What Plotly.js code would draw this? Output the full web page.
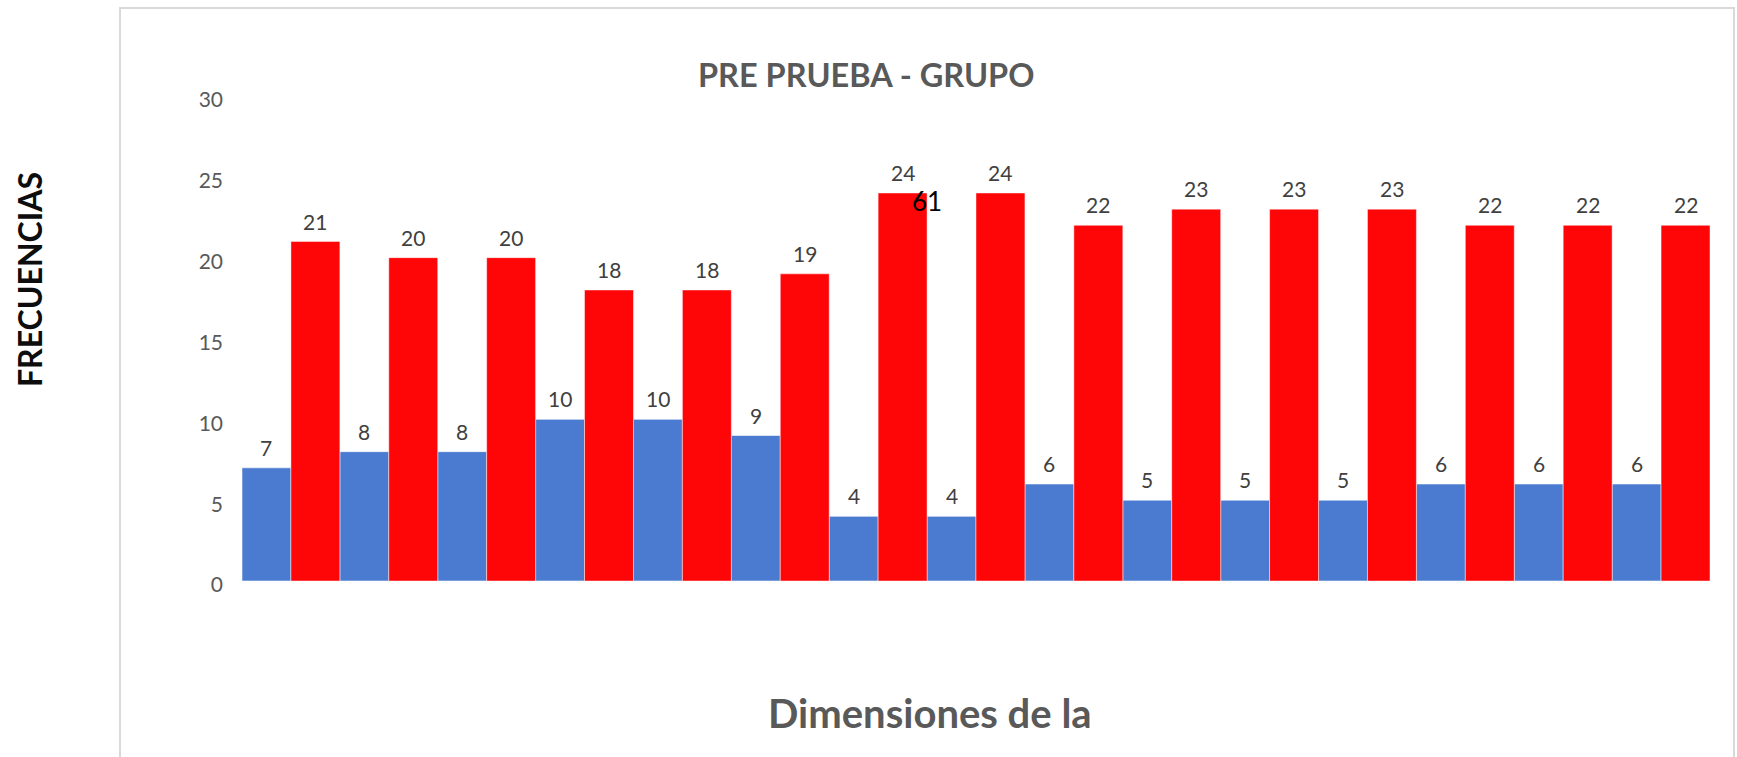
<!DOCTYPE html>
<html>
<head>
<meta charset="utf-8">
<script src="https://cdn.plot.ly/plotly-3.0.1.min.js"></script>
<style>
  html, body { margin: 0; padding: 0; background: #ffffff; }
  #chart { width: 1737px; height: 757px; }
</style>
</head>
<body>
<div id="chart"></div>
<script>
// Dimension index along the x axis (15 dimensions, unlabeled)
const dimensions = [0, 1, 2, 3, 4, 5, 6, 7, 8, 9, 10, 11, 12, 13, 14];

// Frequencies per dimension for the two groups
const blueValues = [7, 8, 8, 10, 10, 9, 4, 4, 6, 5, 5, 5, 6, 6, 6];
const redValues = [21, 20, 20, 18, 18, 19, 24, 24, 22, 23, 23, 23, 22, 22, 22];

// Y axis ticks
const yTicks = [0, 5, 10, 15, 20, 25, 30];

// Texts
const chartTitle = 'PRE PRUEBA - GRUPO';
const xTitle = 'Dimensiones de la';
const yTitle = 'FRECUENCIAS';
const strayLabel = '61';

const W = 1737, H = 757;
const M = { l: 242, r: 27, t: 96, b: 176 };
const plotW = W - M.l - M.r;
const plotH = H - M.t - M.b;
const px = x => (x - M.l) / plotW;          // pixel x -> paper x
const py = y => (H - M.b - y) / plotH;       // pixel y -> paper y

const labelFont = { family: 'Lato, "Open Sans", sans-serif', size: 21, color: '#404040' };

const traces = [
  {
    type: 'bar', x: dimensions, y: blueValues, name: 'Pre',
    marker: { color: '#4a7bd0', line: { color: 'rgba(255,255,255,0.55)', width: 1 } },
    hoverinfo: 'y'
  },
  {
    type: 'bar', x: dimensions, y: redValues, name: 'Post',
    marker: { color: '#fe0508', line: { color: 'rgba(255,255,255,0.45)', width: 1 } },
    hoverinfo: 'y'
  }
];

// Value labels above each bar, placed through the data scales
const annotations = [];
const half = 0.25; // centre offset of each bar within its group (bargap 0, 2 bars)
dimensions.forEach((d, i) => {
  annotations.push({
    x: d - half, y: blueValues[i], xref: 'x', yref: 'y',
    text: String(blueValues[i]), showarrow: false,
    yanchor: 'bottom', yshift: 6, font: labelFont
  });
  annotations.push({
    x: d + half, y: redValues[i], xref: 'x', yref: 'y',
    text: String(redValues[i]), showarrow: false,
    yanchor: 'bottom', yshift: 6, font: labelFont
  });
});

// Chart title
annotations.push({
  xref: 'paper', yref: 'paper', x: px(866), y: py(75),
  xanchor: 'center', yanchor: 'middle', showarrow: false,
  text: '<b>' + chartTitle + '</b>',
  font: { family: 'Lato, "Open Sans", sans-serif', size: 32.5, color: '#595959' }
});
// X axis title
annotations.push({
  xref: 'paper', yref: 'paper', x: px(930), y: py(713),
  xanchor: 'center', yanchor: 'middle', showarrow: false,
  text: '<b>' + xTitle + '</b>',
  font: { family: 'Lato, "Open Sans", sans-serif', size: 40, color: '#595959' }
});
// Y axis title
annotations.push({
  xref: 'paper', yref: 'paper', x: px(29), y: py(280),
  xanchor: 'center', yanchor: 'middle', showarrow: false, textangle: -90,
  text: '<b>' + yTitle + '</b>',
  font: { family: 'Lato, "Open Sans", sans-serif', size: 32, color: '#0d0d0d' }
});
// Stray label between groups 7 and 8
annotations.push({
  xref: 'x', yref: 'paper', x: 6.5, y: py(201),
  xanchor: 'center', yanchor: 'middle', showarrow: false,
  text: strayLabel,
  font: { family: 'Lato, "Open Sans", sans-serif', size: 26, color: '#000000' }
});

const layout = {
  width: W, height: H,
  margin: M,
  paper_bgcolor: '#ffffff', plot_bgcolor: '#ffffff',
  showlegend: false,
  barmode: 'group', bargap: 0, bargroupgap: 0,
  xaxis: {
    range: [-0.5, 14.5], showticklabels: false, ticks: '',
    showgrid: false, zeroline: false, showline: false, fixedrange: true
  },
  yaxis: {
    range: [0, 30], tickvals: yTicks, ticks: '',
    showgrid: false, zeroline: false, showline: false,
    tickfont: { family: 'Lato, "Open Sans", sans-serif', size: 21, color: '#595959' },
    ticklabelstandoff: 18, ticklabelshift: 4, fixedrange: true
  },
  shapes: [
    {
      type: 'rect', xref: 'paper', yref: 'paper',
      x0: px(120), x1: px(1734), y0: py(8), y1: py(770),
      line: { color: '#d9d9d9', width: 2 }, fillcolor: 'rgba(0,0,0,0)', layer: 'below'
    }
  ],
  annotations: annotations
};

Plotly.newPlot('chart', traces, layout, { displayModeBar: false, staticPlot: true });
</script>
</body>
</html>
